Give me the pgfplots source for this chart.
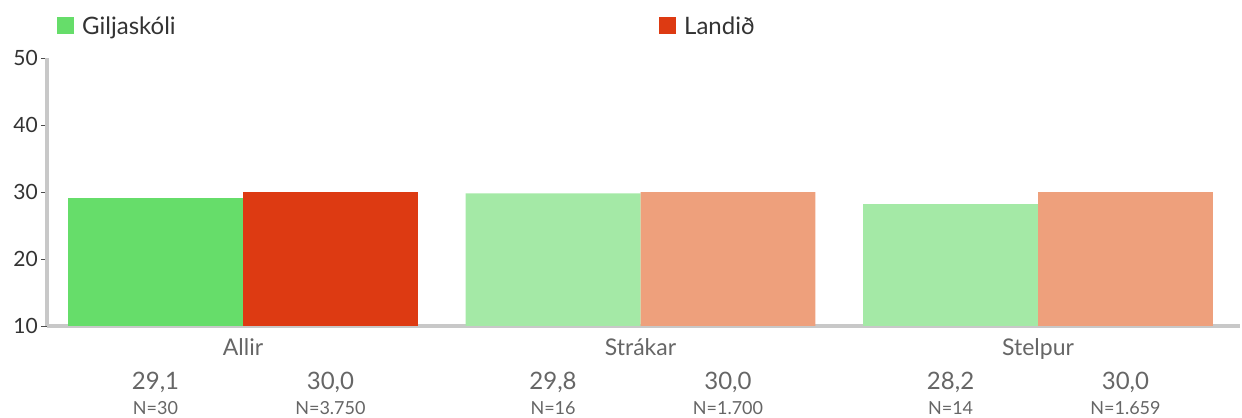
\documentclass[border=0pt]{standalone}
\usepackage{fontspec}
\setmainfont{Lato}
\usepackage{pgfplots}
\pgfplotsset{compat=1.18}
\definecolor{gsat}{HTML}{66DD6A}
\definecolor{glight}{HTML}{A4E9A6}
\definecolor{rsat}{HTML}{DD3A12}
\definecolor{rlight}{HTML}{EEA07C}
\definecolor{axisgray}{HTML}{C8C8C8}
\definecolor{txtdark}{HTML}{333333}
\definecolor{txtmid}{HTML}{666666}
\definecolor{txtlight}{HTML}{808080}
\begin{document}
\begin{tikzpicture}
\useasboundingbox (0,0) rectangle (1242bp,418bp);
\begin{axis}[
  at={(47bp,92bp)}, anchor=south west,
  scale only axis, width=1193bp, height=268bp,
  xmin=-0.493, xmax=2.508, ymin=10, ymax=50,
  ytick={10,20,30,40,50},
  xtick={0,1,2}, xticklabels={Allir,Strákar,Stelpur},
  axis x line=bottom, axis y line=left,
  axis line style={-, draw=axisgray, line width=3bp},
  tick align=outside,
  major tick length=6bp,
  ytick style={draw=black!70, line width=1bp},
  xtick style={draw=none, /pgfplots/major tick length=0pt},
  /pgf/number format/assume math mode=true,
  yticklabel style={inner sep=0pt, xshift=-3bp, text=txtdark, font=\fontsize{21bp}{25bp}\selectfont},
  xticklabel style={inner sep=0pt, yshift=-6bp, text=txtmid, font=\fontsize{23bp}{27bp}\selectfont},
  extra x ticks={-0.22,0.22,0.78,1.22,1.78,2.22},
  extra x tick labels={{29,1\\[-3bp]{\fontsize{18bp}{20bp}\selectfont N=30}},
    {30,0\\[-3bp]{\fontsize{18bp}{20bp}\selectfont N=3.750}},
    {29,8\\[-3bp]{\fontsize{18bp}{20bp}\selectfont N=16}},
    {30,0\\[-3bp]{\fontsize{18bp}{20bp}\selectfont N=1.700}},
    {28,2\\[-3bp]{\fontsize{18bp}{20bp}\selectfont N=14}},
    {30,0\\[-3bp]{\fontsize{18bp}{20bp}\selectfont N=1.659}}},
  extra x tick style={tick style={draw=none}, xticklabel style={align=center, yshift=-34bp, text=txtmid, font=\fontsize{24bp}{28bp}\selectfont}},
  legend columns=2,
  legend style={draw=none, fill=none, inner sep=0pt, at={(0.00838,1.155)}, anchor=north west,
    font=\fontsize{24bp}{28bp}\selectfont, text=txtdark,
    nodes={inner sep=0pt, text width=577bp, align=left},
    /tikz/every odd column/.append style={column sep=8bp}},
  legend image code/.code={\fill[#1] (0bp,-8bp) rectangle (17bp,9bp);},
]
\addplot[ybar, bar width=0.44, bar shift=-0.22, fill=gsat, draw=none] coordinates {(0,29.1)};
\addlegendentry{Giljaskóli}
\addplot[ybar, bar width=0.44, bar shift=0.22, fill=rsat, draw=none] coordinates {(0,30.0)};
\addlegendentry{Landið}
\addplot[ybar, bar width=0.44, bar shift=-0.22, fill=glight, draw=none, forget plot] coordinates {(1,29.8) (2,28.2)};
\addplot[ybar, bar width=0.44, bar shift=0.22, fill=rlight, draw=none, forget plot] coordinates {(1,30.0) (2,30.0)};
\end{axis}
\end{tikzpicture}
\end{document}
